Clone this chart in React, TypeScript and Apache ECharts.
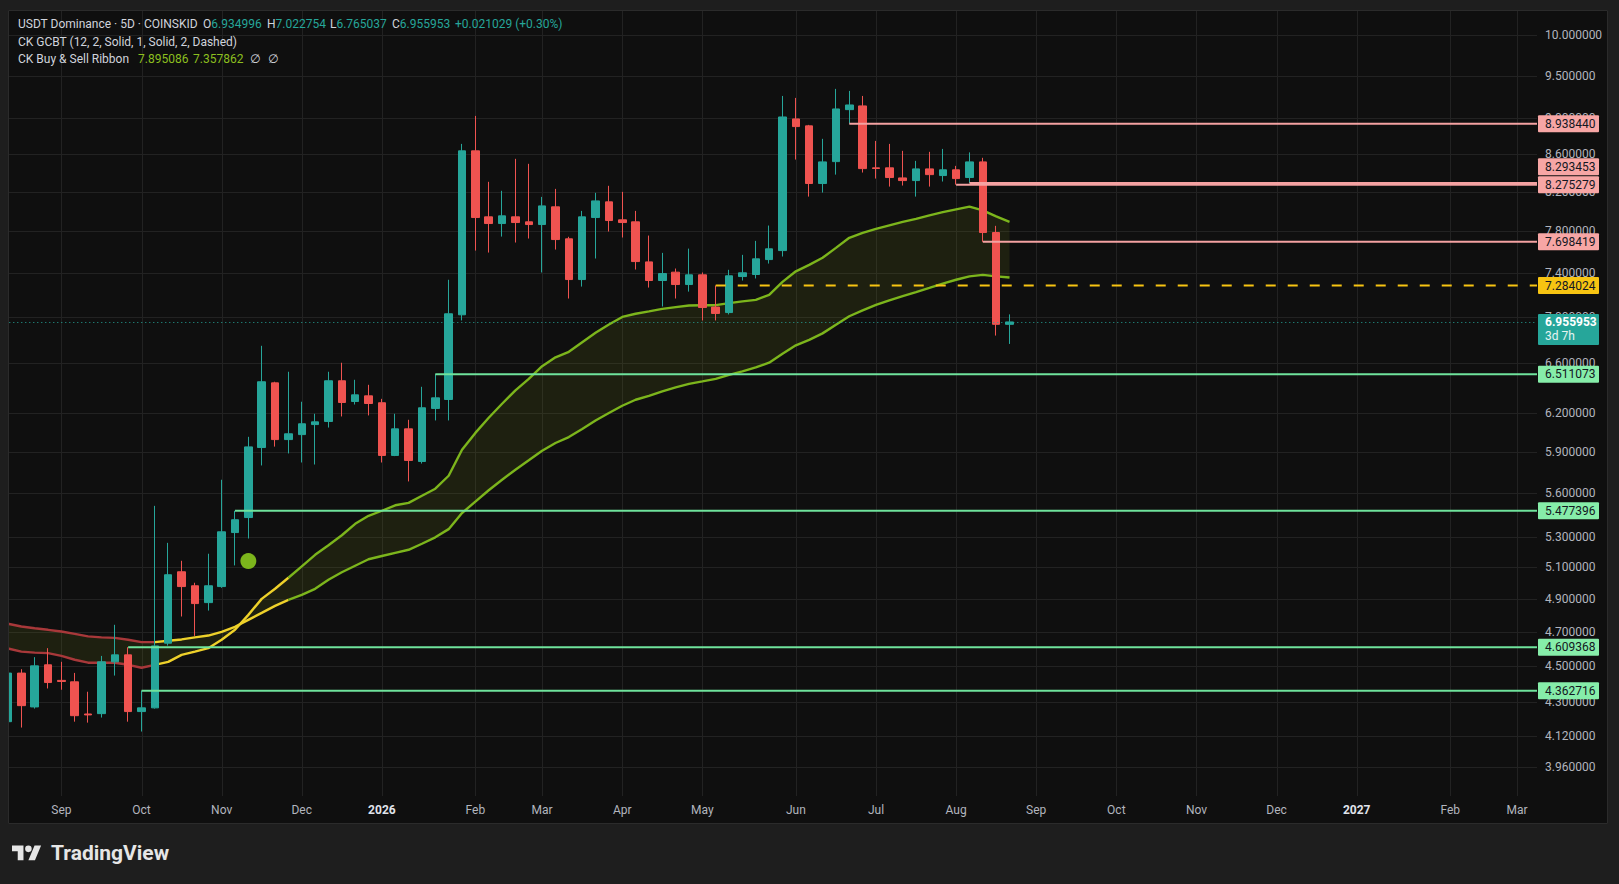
import { useEffect, useRef } from "react";
import * as echarts from "echarts";

// ---------- text ----------
const SYMBOL_TITLE = "USDT Dominance · 5D · COINSKID";
const GCBT_TITLE = "CK GCBT (12, 2, Solid, 1, Solid, 2, Dashed)";
const RIBBON_TITLE = "CK Buy & Sell Ribbon";
const CHANGE_TEXT = "+0.021029 (+0.30%)";
const BAR_TIME_LEFT = "3d 7h";
const MONTHS = ["Jan", "Feb", "Mar", "Apr", "May", "Jun", "Jul", "Aug", "Sep", "Oct", "Nov", "Dec"];

// ---------- time scale ----------
const START_DATE_UTC = Date.UTC(2025, 7, 14);
const BAR_DAYS = 5;
const TOTAL_BARS = 115;

// ---------- candles (5D) ----------
const opens = [
  4.195, 4.461, 4.274, 4.508, 4.42, 4.412, 4.236, 4.238, 4.525, 4.565,
  4.249, 4.269, 4.633, 5.071, 4.982, 4.877, 4.977, 5.329, 5.431, 5.934,
  6.44, 5.994, 6.032, 6.109, 6.133, 6.457, 6.29, 6.335, 6.28, 5.875,
  6.076, 5.83, 6.235, 6.306, 7.019, 8.637, 7.945, 7.878, 7.945, 7.895,
  7.868, 8.046, 7.727, 7.339, 7.938, 8.097, 7.915, 7.895, 7.505, 7.33,
  7.408, 7.293, 7.383, 7.088, 7.039, 7.367, 7.386, 7.527, 7.613, 8.993,
  8.914, 8.287, 8.52, 9.099, 9.142, 8.453, 8.453, 8.346, 8.318, 8.442,
  8.371, 8.432, 8.35, 8.517, 7.789, 6.934996,
];
const highs = [
  4.474, 4.483, 4.552, 4.604, 4.525, 4.462, 4.357, 4.559, 4.742, 4.609368,
  4.362716, 5.512, 5.26, 5.142, 5.001, 5.188, 5.697, 5.477396, 6.015, 6.749,
  6.449, 6.531, 6.288, 6.193, 6.531, 6.606, 6.465, 6.424, 6.311, 6.193,
  6.146, 6.408, 6.511073, 7.337, 8.713, 9.027, 8.305, 8.211, 8.55, 8.496,
  8.148, 8.231, 7.747, 8.005, 8.19, 8.263, 8.2, 8.005, 7.759, 7.591,
  7.442, 7.632, 7.405, 7.284024, 7.43, 7.572, 7.707, 7.858, 9.258, 9.235,
  8.925, 8.769, 9.341, 9.317, 9.258, 8.746, 8.713, 8.637, 8.528, 8.626,
  8.658, 8.474, 8.62, 8.561, 7.855, 7.022754,
];
const lows = [
  4.189, 4.164, 4.265, 4.375, 4.368, 4.195, 4.19, 4.217, 4.447, 4.195,
  4.143, 4.265, 4.619, 4.792, 4.676, 4.828, 4.969, 5.112, 5.289, 5.801,
  5.941, 5.89, 5.823, 5.808, 6.086, 6.172, 6.266, 6.18, 5.823, 5.87,
  5.685, 5.815, 6.141, 6.141, 6.969, 7.613, 7.594, 7.749, 7.691, 7.73,
  7.405, 7.623, 7.165, 7.274, 7.537, 7.799, 7.74, 7.433, 7.265, 7.093,
  7.165, 7.228, 6.969, 6.969, 7.022, 7.33, 7.349, 7.489, 7.556, 8.542,
  8.151, 8.193, 8.381, 8.93844, 8.403, 8.339, 8.255, 8.266, 8.151, 8.255,
  8.308, 8.275279, 8.293453, 7.698419, 6.837, 6.765037,
];
const closes = [
  4.461, 4.281, 4.502, 4.408, 4.414, 4.227, 4.231, 4.525, 4.565, 4.249,
  4.269, 4.617, 5.052, 4.977, 4.871, 4.982, 5.334, 5.416, 5.939, 6.449,
  5.994, 6.038, 6.115, 6.13, 6.457, 6.282, 6.343, 6.274, 5.875, 6.076,
  5.838, 6.24, 6.319, 7.028, 8.637, 7.938, 7.878, 7.955, 7.888, 7.868,
  8.056, 7.72, 7.339, 7.945, 8.107, 7.908, 7.888, 7.508, 7.33, 7.395,
  7.293, 7.383, 7.084, 7.031, 7.374, 7.402, 7.534, 7.63, 9.015, 8.906,
  8.287, 8.517, 9.107, 9.153, 8.445, 8.446, 8.35, 8.318, 8.442, 8.381,
  8.432, 8.339, 8.517, 7.789, 6.934996, 6.955953,
];

// ---------- CK Buy & Sell Ribbon ----------
const ribbonFast = [
  4.602, 4.584, 4.578, 4.575, 4.559, 4.537, 4.52, 4.52, 4.52, 4.508,
  4.491, 4.508, 4.525, 4.565, 4.584, 4.604, 4.653, 4.712, 4.802, 4.9,
  4.963, 5.033, 5.106, 5.181, 5.244, 5.311, 5.388, 5.443, 5.478, 5.516,
  5.533, 5.583, 5.633, 5.726, 5.917, 6.045, 6.162, 6.272, 6.379, 6.473,
  6.577, 6.651, 6.698, 6.779, 6.861, 6.934, 7.0, 7.028, 7.049, 7.072,
  7.088, 7.102, 7.105, 7.105, 7.123, 7.139, 7.153, 7.198, 7.318, 7.416,
  7.477, 7.544, 7.639, 7.737, 7.786, 7.825, 7.86, 7.895, 7.925, 7.96,
  7.992, 8.021, 8.049, 8.011, 7.95, 7.895086,
];
const ribbonSlow = [
  4.748, 4.732, 4.721, 4.712, 4.702, 4.688, 4.673, 4.667, 4.664, 4.653,
  4.639, 4.639, 4.647, 4.655, 4.667, 4.678, 4.7, 4.73, 4.772, 4.814,
  4.857, 4.894, 4.925, 4.963, 5.02, 5.068, 5.11, 5.152, 5.173, 5.194,
  5.214, 5.254, 5.297, 5.352, 5.462, 5.542, 5.622, 5.697, 5.77, 5.839,
  5.91, 5.968, 6.013, 6.075, 6.141, 6.199, 6.256, 6.304, 6.335, 6.371,
  6.403, 6.432, 6.452, 6.473, 6.506, 6.534, 6.567, 6.606, 6.681, 6.753,
  6.8, 6.856, 6.931, 7.006, 7.059, 7.108, 7.149, 7.186, 7.223, 7.262,
  7.302, 7.337, 7.369, 7.383, 7.369, 7.357862,
];
const ribbonRedUntilBar = 11;
const ribbonYellowUntilBar = 21;
const buySignalBars = [18];
const buySignalPrices = [5.14];

// ---------- CK GCBT levels ----------
const resistancePrices = [8.93844, 8.293453, 8.275279, 7.698419];
const resistanceFromBar = [63, 72, 71, 73];
const pivotPrices = [7.284024];
const pivotFromBar = [53];
const supportPrices = [6.511073, 5.477396, 4.609368, 4.362716];
const supportFromBar = [32, 17, 9, 10];

// ---------- price scale (log) ----------
const priceTicks = [10, 9.5, 9, 8.6, 8.2, 7.8, 7.4, 7.0, 6.6, 6.2, 5.9, 5.6, 5.3, 5.1, 4.9, 4.7, 4.5, 4.3, 4.12, 3.96];
const priceAxisMin = 3.8186;
const priceAxisMax = 10.3213;

// ---------- style ----------
const FONT = 'Roboto, "DejaVu Sans", sans-serif';
const PANE_BG = "#0f0f0f";
const OUTER_BG = "#1e1e1e";
const GRID_COLOR = "#222222";
const AXIS_TEXT = "#b2b5be";
const LEGEND_TEXT = "#d1d4dc";
const UP = "#26a69a";
const DOWN = "#ef5350";
const RIB_RED = "#a8383a";
const RIB_YELLOW = "#eed12a";
const RIB_GREEN = "#7cb51c";
const RIB_FILL = "rgba(128,150,20,0.13)";
const RES_LINE = "#f4a2a2";
const RES_BG = "#f7a6a5";
const SUP_LINE = "#6fe39c";
const SUP_BG = "#86eda9";
const PIVOT = "#f7c412";
const LABEL_FG = "#131722";

const TV_LOGO_PATH =
  "M14 22H7V11H0V4h14v18zM28 22h-8l7.5-18h8L28 22zM16 8a4 4 0 1 0 8 0a4 4 0 1 0 -8 0z";
echarts.graphic.registerShape("tvlogo", echarts.graphic.extendPath(TV_LOGO_PATH, {}) as any);

const ln = Math.log;

function buildCategories() {
  const cats: string[] = [];
  for (let i = 0; i < TOTAL_BARS; i++) {
    const d = new Date(START_DATE_UTC + i * BAR_DAYS * 86400000);
    cats.push(d.toISOString().slice(0, 10));
  }
  return cats;
}

export default function App() {
  const ref = useRef<HTMLDivElement>(null);

  useEffect(() => {
    document.body.style.margin = "0";
    const chart = echarts.init(ref.current!, undefined, { renderer: "svg" });

    const categories = buildCategories();
    const monthStarts: number[] = [];
    for (let i = 1; i < categories.length; i++) {
      if (categories[i].slice(5, 7) !== categories[i - 1].slice(5, 7)) monthStarts.push(i);
    }
    const monthStartSet = new Set(monthStarts);
    const monthLabel = (cat: string) => {
      const m = parseInt(cat.slice(5, 7), 10) - 1;
      return m === 0 ? `{yr|${cat.slice(0, 4)}}` : MONTHS[m];
    };

    const candleData = opens.map((o, i) => [ln(o), ln(closes[i]), ln(lows[i]), ln(highs[i])]);
    const fastLn = ribbonFast.map(ln);
    const slowLn = ribbonSlow.map(ln);
    const ribBase = fastLn.map((v, i) => Math.min(v, slowLn[i]));
    const ribBand = fastLn.map((v, i) => Math.abs(v - slowLn[i]));
    const seg = (arr: number[], a: number, b: number) => arr.map((v, i) => (i >= a && i <= b ? v : null));
    const lastBar = opens.length - 1;

    const ribbonLine = (name: string, data: (number | null)[], color: string) => ({
      name,
      type: "line",
      data,
      symbol: "none",
      silent: true,
      z: 2,
      connectNulls: false,
      lineStyle: { color, width: 2.4 },
    });

    const renderGrid = (params: any, api: any) => {
      const cs = params.coordSys;
      const children: any[] = [];
      priceTicks.forEach((p) => {
        const y = Math.round(api.coord([0, ln(p)])[1]) + 0.5;
        children.push({
          type: "line",
          shape: { x1: cs.x, y1: y, x2: cs.x + cs.width, y2: y },
          style: { stroke: GRID_COLOR, lineWidth: 1 },
        });
      });
      monthStarts.forEach((i) => {
        const x = Math.round(api.coord([i, ln(5)])[0]) + 0.5;
        children.push({
          type: "line",
          shape: { x1: x, y1: cs.y, x2: x, y2: cs.y + cs.height },
          style: { stroke: GRID_COLOR, lineWidth: 1 },
        });
      });
      return { type: "group", children };
    };

    const renderLevels = (params: any, api: any) => {
      const cs = params.coordSys;
      const right = cs.x + cs.width;
      const children: any[] = [];
      const yOf = (p: number) => api.coord([0, ln(p)])[1];
      const xOf = (i: number) => api.coord([i, ln(5)])[0];

      // current price dotted line
      const lastClose = closes[lastBar];
      const yc = yOf(lastClose);
      children.push({
        type: "line",
        shape: { x1: cs.x, y1: Math.round(yc) + 0.5, x2: right, y2: Math.round(yc) + 0.5 },
        style: { stroke: UP, lineWidth: 1, lineDash: [1, 3] },
      });

      type Lab = { y: number; top: number; h: number; text: string; text2?: string; bg: string; fg: string };
      const labels: Lab[] = [];
      const addLevel = (price: number, from: number, color: string, bg: string, dashed: boolean) => {
        const y = yOf(price);
        children.push({
          type: "line",
          shape: { x1: xOf(from), y1: y, x2: right, y2: y },
          style: { stroke: color, lineWidth: 2, lineDash: dashed ? [10, 12] : null },
        });
        labels.push({ y, top: y - 8.5, h: 17, text: price.toFixed(6), bg, fg: LABEL_FG });
      };
      resistancePrices.forEach((p, k) => addLevel(p, resistanceFromBar[k], RES_LINE, RES_BG, false));
      pivotPrices.forEach((p, k) => addLevel(p, pivotFromBar[k], PIVOT, PIVOT, true));
      supportPrices.forEach((p, k) => addLevel(p, supportFromBar[k], SUP_LINE, SUP_BG, false));
      labels.push({ y: yc, top: yc - 8, h: 31, text: lastClose.toFixed(6), text2: BAR_TIME_LEFT, bg: UP, fg: "#ffffff" });

      // resolve overlaps: keep lower labels, push higher ones up
      labels.sort((a, b) => b.y - a.y);
      let limit = Infinity;
      labels.forEach((l) => {
        if (l.top + l.h > limit - 1) l.top = limit - 1 - l.h;
        limit = l.top;
      });

      labels.forEach((l) => {
        children.push({
          type: "rect",
          shape: { x: right + 1, y: l.top, width: 61, height: l.h, r: 1 },
          style: { fill: l.bg },
        });
        children.push({
          type: "text",
          style: {
            x: right + 8,
            y: l.top + 8.5,
            text: l.text,
            fill: l.fg,
            font: `${l.text2 ? "bold " : ""}12px ${FONT}`,
            align: "left",
            verticalAlign: "middle",
          },
        });
        if (l.text2) {
          children.push({
            type: "text",
            style: {
              x: right + 8,
              y: l.top + 22.5,
              text: l.text2,
              fill: "#e6f4f2",
              font: `12px ${FONT}`,
              align: "left",
              verticalAlign: "middle",
            },
          });
        }
      });
      return { type: "group", children };
    };

    const legendTextStyle = (text: string, fill: string) => ({
      text,
      fill,
      font: `12px ${FONT}`,
      verticalAlign: "middle",
    });
    const ohlcRich = (letter: string, value: string) => ({
      text: `{l|${letter}}{v|${value}}`,
      font: `12px ${FONT}`,
      verticalAlign: "middle",
      rich: {
        l: { fill: LEGEND_TEXT, font: `12px ${FONT}` },
        v: { fill: UP, font: `12px ${FONT}` },
      },
    });

    const option: any = {
      animation: false,
      backgroundColor: PANE_BG,
      textStyle: { fontFamily: FONT },
      grid: { left: 1.3, right: 82, top: 10, bottom: 88, containLabel: false, outerBoundsMode: "none" },
      xAxis: {
        type: "category",
        data: categories,
        boundaryGap: true,
        axisLine: { show: false },
        axisTick: { show: false },
        splitLine: { show: false },
        axisPointer: { show: false },
        axisLabel: {
          interval: (idx: number) => monthStartSet.has(idx),
          formatter: (val: string) => monthLabel(val),
          color: AXIS_TEXT,
          fontSize: 12,
          margin: 8,
          rich: { yr: { color: "#e0e3eb", fontSize: 12, fontWeight: "bold" } },
        },
      },
      yAxis: {
        type: "value",
        position: "right",
        min: ln(priceAxisMin),
        max: ln(priceAxisMax),
        scale: true,
        axisLine: { show: false },
        axisTick: { show: false, customValues: priceTicks.map(ln) },
        splitLine: { show: false },
        axisLabel: {
          customValues: priceTicks.map(ln),
          formatter: (v: number) => Math.exp(v).toFixed(6),
          color: AXIS_TEXT,
          fontSize: 12,
          margin: 8,
          align: "left",
        },
      },
      series: [
        {
          type: "custom",
          name: "grid",
          silent: true,
          z: 0,
          clip: false,
          data: [[0, ln(5)]],
          renderItem: renderGrid,
        },
        {
          type: "line",
          name: "ribbonBase",
          stack: "ribbon",
          data: ribBase,
          symbol: "none",
          silent: true,
          z: 1,
          lineStyle: { opacity: 0 },
        },
        {
          type: "line",
          name: "ribbonFill",
          stack: "ribbon",
          data: ribBand,
          symbol: "none",
          silent: true,
          z: 1,
          lineStyle: { opacity: 0 },
          areaStyle: { color: RIB_FILL, opacity: 1 },
        },
        ribbonLine("fastRed", seg(fastLn, 0, ribbonRedUntilBar), RIB_RED),
        ribbonLine("slowRed", seg(slowLn, 0, ribbonRedUntilBar), RIB_RED),
        ribbonLine("fastYellow", seg(fastLn, ribbonRedUntilBar, ribbonYellowUntilBar), RIB_YELLOW),
        ribbonLine("slowYellow", seg(slowLn, ribbonRedUntilBar, ribbonYellowUntilBar), RIB_YELLOW),
        ribbonLine("fastGreen", seg(fastLn, ribbonYellowUntilBar, lastBar), RIB_GREEN),
        ribbonLine("slowGreen", seg(slowLn, ribbonYellowUntilBar, lastBar), RIB_GREEN),
        {
          type: "candlestick",
          name: "USDT.D",
          data: candleData,
          barWidth: 8,
          z: 3,
          silent: true,
          itemStyle: {
            color: UP,
            color0: DOWN,
            borderColor: UP,
            borderColor0: DOWN,
            borderWidth: 1,
          },
        },
        {
          type: "scatter",
          name: "buySignal",
          data: buySignalBars.map((b, k) => [b, ln(buySignalPrices[k])]),
          symbol: "circle",
          symbolSize: 16,
          z: 4,
          silent: true,
          itemStyle: { color: RIB_GREEN, opacity: 1 },
        },
        {
          type: "custom",
          name: "levels",
          silent: true,
          z: 5,
          clip: false,
          data: [[0, ln(5)]],
          renderItem: renderLevels,
        },
      ],
      graphic: [
        { type: "rect", z: 100, silent: true, shape: { x: 0, y: 0, width: 8, height: 884 }, style: { fill: OUTER_BG } },
        { type: "rect", z: 100, silent: true, shape: { x: 0, y: 0, width: 1619, height: 10 }, style: { fill: OUTER_BG } },
        { type: "rect", z: 100, silent: true, shape: { x: 1608, y: 0, width: 11, height: 884 }, style: { fill: OUTER_BG } },
        { type: "rect", z: 100, silent: true, shape: { x: 0, y: 824, width: 1619, height: 60 }, style: { fill: OUTER_BG } },
        {
          type: "rect",
          z: 101,
          silent: true,
          shape: { x: 8.5, y: 10.5, width: 1599, height: 813 },
          style: { fill: "none", stroke: "#2b2b2b", lineWidth: 1 },
        },
        { type: "text", z: 102, x: 18, y: 24, style: legendTextStyle(SYMBOL_TITLE, LEGEND_TEXT) },
        { type: "text", z: 102, x: 203, y: 24, style: ohlcRich("O", opens[lastBar].toFixed(6)) },
        { type: "text", z: 102, x: 267, y: 24, style: ohlcRich("H", highs[lastBar].toFixed(6)) },
        { type: "text", z: 102, x: 330, y: 24, style: ohlcRich("L", lows[lastBar].toFixed(6)) },
        { type: "text", z: 102, x: 392, y: 24, style: ohlcRich("C", closes[lastBar].toFixed(6)) },
        { type: "text", z: 102, x: 455, y: 24, style: legendTextStyle(CHANGE_TEXT, UP) },
        { type: "text", z: 102, x: 18, y: 41.5, style: legendTextStyle(GCBT_TITLE, LEGEND_TEXT) },
        { type: "text", z: 102, x: 18, y: 59, style: legendTextStyle(RIBBON_TITLE, LEGEND_TEXT) },
        { type: "text", z: 102, x: 138, y: 59, style: legendTextStyle(ribbonFast[lastBar].toFixed(6), "#8cbf1f") },
        { type: "text", z: 102, x: 193, y: 59, style: legendTextStyle(ribbonSlow[lastBar].toFixed(6), "#8cbf1f") },
        { type: "text", z: 102, x: 250, y: 59, style: legendTextStyle("∅", LEGEND_TEXT) },
        { type: "text", z: 102, x: 268, y: 59, style: legendTextStyle("∅", LEGEND_TEXT) },
        {
          type: "tvlogo",
          z: 102,
          silent: true,
          x: 12,
          y: 842.3,
          scaleX: 0.82,
          scaleY: 0.82,
          style: { fill: "#e6e6e6" },
        },
        {
          type: "text",
          z: 102,
          x: 51,
          y: 853,
          style: { text: "TradingView", fill: "#e6e6e6", font: `bold 21px ${FONT}`, verticalAlign: "middle" },
        },
      ],
    };

    chart.setOption(option);
    return () => chart.dispose();
  }, []);

  return <div ref={ref} style={{ position: "absolute", left: 0, top: 0, width: 1619, height: 884 }} />;
}
